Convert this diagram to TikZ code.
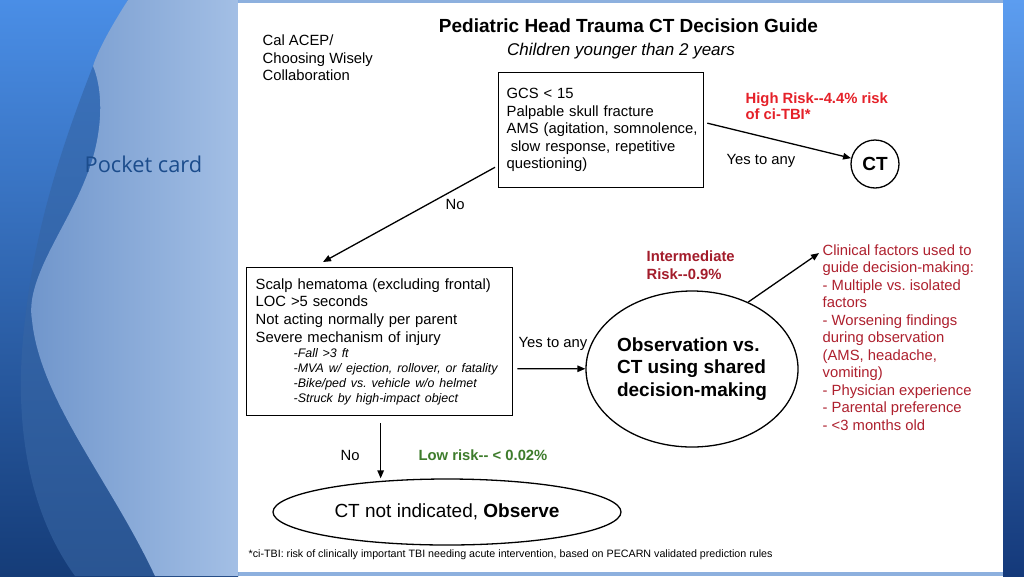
\documentclass[tikz,border=0pt]{standalone}
\usepackage{fontspec}
\setmainfont{Liberation Sans}
\newfontfamily\pocketfont{Open Sans}
\usetikzlibrary{arrows.meta,shapes.geometric}
\frenchspacing

\definecolor{slidetop}{HTML}{4A8EE6}
\definecolor{slidemid}{HTML}{1D4B8D}
\definecolor{slidebot}{HTML}{153C78}
\definecolor{bandtop}{HTML}{3C74BE}
\definecolor{bandbot}{HTML}{2A5592}
\definecolor{lightleft}{HTML}{6F95CB}
\definecolor{lightright}{HTML}{A3BFE5}
\definecolor{striptop}{HTML}{5C9DF0}
\definecolor{stripbot}{HTML}{14397A}
\definecolor{edgeblue}{HTML}{8DB0DE}
\definecolor{pocketblue}{HTML}{1B4C8C}
\definecolor{highred}{HTML}{E52129}
\definecolor{midred}{HTML}{A31C2B}
\definecolor{factred}{HTML}{AE202E}
\definecolor{lowgreen}{HTML}{3E7C2C}

\begin{document}
\begin{tikzpicture}[x=1pt,y=-1pt,line width=1.3pt,
    >={Triangle[length=8pt,width=6.5pt]},
    txt/.style={inner sep=0pt,font=\fontsize{14.8}{17.6}\selectfont},
    boldtxt/.style={inner sep=0pt,font=\fontsize{14.8}{17.6}\selectfont\bfseries},
    critbox/.style={draw,rectangle,inner ysep=0pt,align=left,anchor=north west,
        font=\fontsize{14.8}{17.6}\selectfont}]
    \useasboundingbox (0,0) rectangle (1024,576);

    \fill[edgeblue] (0,0) rectangle (1024,576); % slide
    \shade[top color=slidetop, middle color=slidemid, bottom color=slidebot] (0,0) rectangle (238,576); % left side
    \shade[top color=bandtop, bottom color=bandbot] (128,0) -- (93,66) .. controls (60,150) and (35,230) .. (25,320)
        .. controls (15,400) and (20,500) .. (75,576) -- (238,576) -- (238,0) -- cycle; % dark band
    \shade[left color=lightleft, right color=lightright] (128,0) .. controls (112,25) and (98,50) .. (93,66)
        .. controls (105,95) and (102,140) .. (85,180) .. controls (65,230) and (25,280) .. (32,320)
        .. controls (40,400) and (110,480) .. (155,576) -- (238,576) -- (238,0) -- cycle; % light swoosh
    \shade[top color=striptop, bottom color=stripbot] (1003,0) rectangle (1024,576); % right strip
    \fill[white] (238,3) rectangle (1003,572); % card

    \node[inner sep=0pt,anchor=base west,font=\pocketfont\fontsize{21.8}{24}\selectfont,text=pocketblue] (pocket) at (84,172) {Pocket card};

    \node[inner sep=0pt,anchor=base,font=\fontsize{19}{22}\selectfont\bfseries] (title) at (628.5,32) {Pediatric Head Trauma CT Decision Guide};
    \node[inner sep=0pt,anchor=base,font=\fontsize{17}{20}\selectfont\itshape] (subtitle) at (621,55) {Children younger than 2 years};
    \node[txt,anchor=north west,align=left] (acep) at (262,34.2) {Cal ACEP/\\Choosing Wisely\\Collaboration};

    % first question
    \node[critbox,inner xsep=4pt,text width=197pt,minimum height=115pt] (gcs) at (498,72)
        {\leftskip=4pt GCS < 15\\Palpable skull fracture\\AMS (agitation, somnolence,\\\hspace*{0.28em}slow response, repetitive\\questioning)\par\vspace*{-7.5pt}};
    \node[boldtxt,anchor=north west,align=left,text=highred,font=\fontsize{14.8}{16.5}\selectfont\bfseries] (high) at (745,92.1) {High Risk-{}-4.4\% risk\\of ci-TBI*};
    \node[draw,circle,minimum size=48pt,inner sep=0pt,font=\fontsize{19}{22}\selectfont\bfseries] (ct) at (875,164) {CT};
    \node[txt,anchor=base west] (yesA) at (726,164) {Yes to any};
    \node[txt,anchor=base west] (noA) at (445,209) {No};

    % second question
    \node[critbox,inner xsep=9pt,text width=248pt,minimum height=148pt] (scalp) at (246,267)
        {Scalp hematoma (excluding frontal)\\LOC >5 seconds\\Not acting normally per parent\\Severe mechanism of injury\par
        \fontsize{12.4}{15}\selectfont\itshape\leftskip=38pt
        -Fall >3 ft\\-MVA w/ ejection, rollover, or fatality\\-Bike/ped vs. vehicle w/o helmet\\-Struck by high-impact object\par};
    \node[txt,anchor=base west] (yesB) at (518,347) {Yes to any};
    \node[draw,ellipse,minimum width=212pt,minimum height=156pt,inner sep=0pt,align=left,
        font=\fontsize{19}{22.5}\selectfont\bfseries] (obs) at (692,369) {Observation vs.\\CT using shared\\decision-making};
    \node[boldtxt,anchor=north west,align=left,text=midred] (mid) at (646,250.3) {Intermediate\\Risk-{}-0.9\%};
    \node[txt,anchor=north west,align=left,text=factred,font=\fontsize{14.8}{17.5}\selectfont] (factors) at (822,244.1)
        {Clinical factors used to\\guide decision-making:\\- Multiple vs. isolated\\factors\\- Worsening findings\\during observation\\(AMS, headache,\\vomiting)\\- Physician experience\\- Parental preference\\- <3 months old};

    % low risk
    \node[txt,anchor=base west] (noB) at (340,460) {No};
    \node[boldtxt,anchor=base west,text=lowgreen] (low) at (418,460) {Low risk-{}- < 0.02\%};
    \node[draw,ellipse,minimum width=348pt,minimum height=66pt,inner sep=0pt,font=\fontsize{19}{22}\selectfont] (observe) at (447,512)
        {CT not indicated, \textbf{Observe}};
    \node[inner sep=0pt,anchor=base west,font=\fontsize{10.7}{13}\selectfont] (note) at (248,557)
        {*ci-TBI: risk of clinically important TBI needing acute intervention, based on PECARN validated prediction rules};

    \coordinate (gcsR) at ([xshift=3pt,yshift=7pt]gcs.east);
    \coordinate (gcsL) at ([xshift=-3pt,yshift=21pt]gcs.south west);
    \coordinate (scalpT) at ([xshift=77pt,yshift=5pt]scalp.north west);
    \coordinate (scalpR) at ([xshift=4pt,yshift=-27pt]scalp.east);
    \coordinate (scalpB) at ([xshift=1pt,yshift=-7pt]scalp.south);
    \coordinate (factorsL) at ([xshift=-3pt,yshift=-9pt]factors.north west);

    \draw[->] (gcsR) -- (ct); % yes
    \draw[->] (gcsL) -- (scalpT); % no
    \draw[->] (scalpR) -- (obs); % yes
    \draw[->] (obs.50) -- (factorsL);
    \draw[->] (scalpB) -- (scalpB |- observe.north); % no
\end{tikzpicture}
\end{document}
